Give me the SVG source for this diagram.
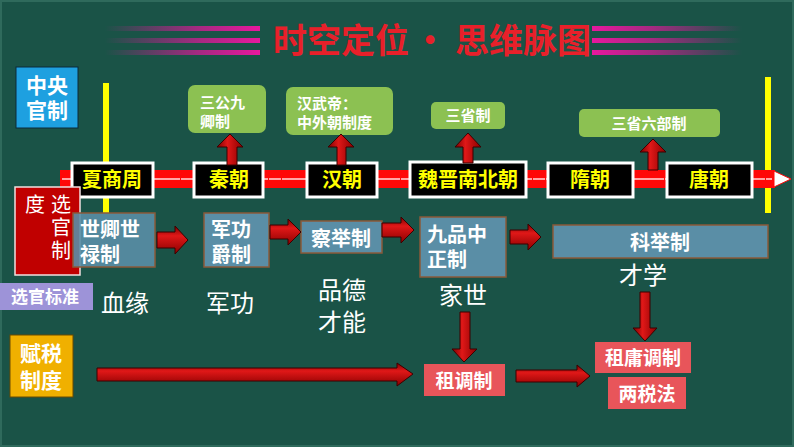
<svg xmlns="http://www.w3.org/2000/svg" width="794" height="447" viewBox="0 0 794 447">
<defs>
<style>
.cjk{font-family:"Noto Sans CJK SC","Noto Sans",sans-serif}
.b{font-weight:700}
.per rect{fill:#000;stroke:#fff;stroke-width:3}
.per text{fill:#ffff00;font-size:20px;font-weight:700;text-anchor:middle}
.grn rect{fill:#8cc152}
.grn text{fill:#fff;font-size:15px;font-weight:700}
.stb rect{fill:#5a8ea6;stroke:#8a5a3a;stroke-width:1.5}
.stb text{fill:#fff;font-size:20px;font-weight:700}
.lab{fill:#fff;font-size:24px;font-weight:400;text-anchor:middle}
.sal rect{fill:#e8555a}
.sal text{fill:#fff;font-size:19px;font-weight:700;text-anchor:middle}
.arr{fill:url(#gH);stroke:#3a0000;stroke-width:1}
.arv{fill:url(#gV);stroke:#3a0000;stroke-width:1}
</style>
<linearGradient id="gH" x1="0" y1="0" x2="0" y2="1">
<stop offset="0" stop-color="#7a0000"/><stop offset="0.35" stop-color="#e01818"/><stop offset="1" stop-color="#8a0000"/>
</linearGradient>
<linearGradient id="gV" x1="0" y1="0" x2="1" y2="0">
<stop offset="0" stop-color="#7a0000"/><stop offset="0.4" stop-color="#e01818"/><stop offset="1" stop-color="#8a0000"/>
</linearGradient>
<linearGradient id="pinkL" x1="0" y1="0" x2="1" y2="0">
<stop offset="0" stop-color="#e0189a" stop-opacity="0"/><stop offset="0.6" stop-color="#e0189a" stop-opacity="0.7"/><stop offset="1" stop-color="#e8189e"/>
</linearGradient>
<linearGradient id="pinkR" x1="1" y1="0" x2="0" y2="0">
<stop offset="0" stop-color="#e0189a" stop-opacity="0"/><stop offset="0.6" stop-color="#e0189a" stop-opacity="0.7"/><stop offset="1" stop-color="#e8189e"/>
</linearGradient>
</defs>
<rect x="0" y="0" width="794" height="447" fill="#1a5347"/>
<rect x="1" y="1" width="792" height="445" fill="none" stroke="#2f6a5c" stroke-width="2"/>

<g id="title">
<rect x="105" y="26" width="155" height="5" fill="url(#pinkL)"/>
<rect x="105" y="38" width="155" height="5" fill="url(#pinkL)"/>
<rect x="105" y="50" width="155" height="5" fill="url(#pinkL)"/>
<rect x="592" y="26" width="150" height="5" fill="url(#pinkR)"/>
<rect x="592" y="38" width="150" height="5" fill="url(#pinkR)"/>
<rect x="592" y="50" width="150" height="5" fill="url(#pinkR)"/>
<text class="cjk b" x="273" y="53" font-size="34" fill="#e8202a">时空定位<tspan dx="4">·</tspan><tspan dx="8">思维脉图</tspan></text>
</g>

<g id="yellow-lines">
<rect x="103" y="83" width="6" height="130" fill="#ffff00"/>
<rect x="765" y="77" width="6" height="136" fill="#ffff00"/>
</g>

<g id="timeline">
<rect x="60" y="170" width="715" height="18" fill="#ff0808"/>
<line x1="62" y1="179" x2="772" y2="179" stroke="#fff" stroke-width="1.5" stroke-opacity="0.85" stroke-dasharray="30 1 12 1"/>
<polygon points="774,171 791,179 774,187" fill="#fff" stroke="#ff0808" stroke-width="1"/>
</g>

<g id="central-label">
<rect x="16" y="67" width="62" height="61" fill="#1ea0e0" stroke="#0a2a3a" stroke-width="1"/>
<text class="cjk b" x="47" y="93" font-size="21" fill="#fff" text-anchor="middle">中央</text>
<text class="cjk b" x="47" y="118" font-size="21" fill="#fff" text-anchor="middle">官制</text>
</g>

<g id="xiashangzhou" class="per cjk"><rect x="72" y="163" width="81" height="34"/><text x="112" y="187">夏商周</text></g>
<g id="qin" class="per cjk"><rect x="194" y="163" width="69" height="34"/><text x="229" y="187">秦朝</text></g>
<g id="han" class="per cjk"><rect x="307" y="163" width="70" height="34"/><text x="342" y="187">汉朝</text></g>
<g id="weijin" class="per cjk"><rect x="410" y="162" width="116" height="35"/><text x="468" y="187">魏晋南北朝</text></g>
<g id="sui" class="per cjk"><rect x="548" y="163" width="85" height="34"/><text x="590" y="187">隋朝</text></g>
<g id="tang" class="per cjk"><rect x="667" y="163" width="85" height="34"/><text x="709" y="187">唐朝</text></g>

<g id="sangong" class="grn cjk"><rect x="188" y="85" width="78" height="48" rx="7"/><text x="200" y="108" font-size="16">三公九</text><text x="200" y="127" font-size="16">卿制</text></g>
<g id="hanwudi" class="grn cjk"><rect x="286" y="87" width="107" height="48" rx="7"/><text x="297" y="109">汉武帝：</text><text x="297" y="128">中外朝制度</text></g>
<g id="sansheng" class="grn cjk"><rect x="431" y="102" width="74" height="27" rx="5"/><text x="468" y="121" text-anchor="middle">三省制</text></g>
<g id="sansheng-liubu" class="grn cjk"><rect x="579" y="109" width="141" height="28" rx="5"/><text x="649" y="129" text-anchor="middle" font-size="16">三省六部制</text></g>

<g id="xuanguan-label">
<rect x="15" y="187" width="65" height="88" fill="#c00000" stroke="#f0e0e0" stroke-width="1.5"/>
<text class="cjk" x="35" y="212" font-size="20" fill="#fff" text-anchor="middle">度</text>
<text class="cjk" x="61" y="212" font-size="20" fill="#fff" text-anchor="middle">选</text>
<text class="cjk" x="61" y="235" font-size="20" fill="#fff" text-anchor="middle">官</text>
<text class="cjk" x="61" y="258" font-size="20" fill="#fff" text-anchor="middle">制</text>
</g>

<g id="shiqing" class="stb cjk"><rect x="73" y="213" width="82" height="54" fill-opacity="0.9"/><text x="80" y="237">世卿世</text><text x="80" y="262">禄制</text></g>
<g id="jungong" class="stb cjk"><rect x="204" y="213" width="65" height="54"/><text x="211" y="237">军功</text><text x="211" y="262">爵制</text></g>
<g id="chaju" class="stb cjk"><rect x="301" y="221" width="81" height="32"/><text x="341" y="246" text-anchor="middle" font-size="21">察举制</text></g>
<g id="jiupin" class="stb cjk"><rect x="420" y="217" width="86" height="60"/><text x="427" y="242" font-size="21">九品中</text><text x="427" y="267" font-size="21">正制</text></g>
<g id="keju" class="stb cjk"><rect x="553" y="225" width="215" height="33"/><text x="660" y="250" text-anchor="middle" font-size="21">科举制</text></g>

<g id="standard-label">
<rect x="0" y="283" width="93" height="27" fill="#9d93d8"/>
<text class="cjk b" x="45" y="303" font-size="17" fill="#fff" text-anchor="middle">选官标准</text>
</g>
<g id="xueyuan" class="cjk"><text class="lab" x="125" y="312">血缘</text></g>
<g id="jungong-std" class="cjk"><text class="lab" x="230" y="312">军功</text></g>
<g id="pinde" class="cjk"><text class="lab" x="342" y="299">品德</text><text class="lab" x="342" y="331">才能</text></g>
<g id="jiashi" class="cjk"><text class="lab" x="463" y="304">家世</text></g>
<g id="caixue" class="cjk"><text class="lab" x="643" y="284">才学</text></g>

<g id="tax-label">
<rect x="10" y="335" width="63" height="62" fill="#f0b000" stroke="#6a4a00" stroke-width="1"/>
<text class="cjk b" x="41" y="361" font-size="21" fill="#fff" text-anchor="middle">赋税</text>
<text class="cjk b" x="41" y="388" font-size="21" fill="#fff" text-anchor="middle">制度</text>
</g>
<g id="zudiao" class="sal cjk"><rect x="424" y="364" width="81" height="32"/><text x="464" y="388">租调制</text></g>
<g id="zuyongdiao" class="sal cjk"><rect x="595" y="342" width="96" height="31"/><text x="643" y="365">租庸调制</text></g>
<g id="liangshui" class="sal cjk"><rect x="608" y="377" width="78" height="32"/><text x="647" y="401">两税法</text></g>

<g id="connectors">
<polygon class="arv" points="227,165 227,147 217,147 230,134 243,147 237,147 237,165"/>
<polygon class="arv" points="337,165 337,147 328,147 341,134 354,147 346,147 346,165"/>
<polygon class="arv" points="463,163 463,147 455,147 468,133 481,147 473,147 473,163"/>
<polygon class="arv" points="648,170 648,152 640,152 653,139 666,152 658,152 658,170"/>
<polygon class="arr" points="157,232 175,232 175,226 188,240 175,254 175,248 157,248"/>
<polygon class="arr" points="270,225 288,225 288,219 301,232 288,245 288,239 270,239"/>
<polygon class="arr" points="382,223 401,223 401,217 414,230 401,243 401,237 382,237"/>
<polygon class="arr" points="510,230 528,230 528,224 541,237 528,250 528,244 510,244"/>
<polygon class="arv" points="460,312 460,349 452,349 464,362 477,349 470,349 470,312"/>
<polygon class="arv" points="640,292 640,328 633,328 645,341 657,328 650,328 650,292"/>
<polygon class="arr" points="97,368 397,368 397,363 413,374 397,386 397,381 97,381"/>
<polygon class="arr" points="516,370 577,370 577,365 590,376 577,387 577,382 516,382"/>
</g>
</svg>
